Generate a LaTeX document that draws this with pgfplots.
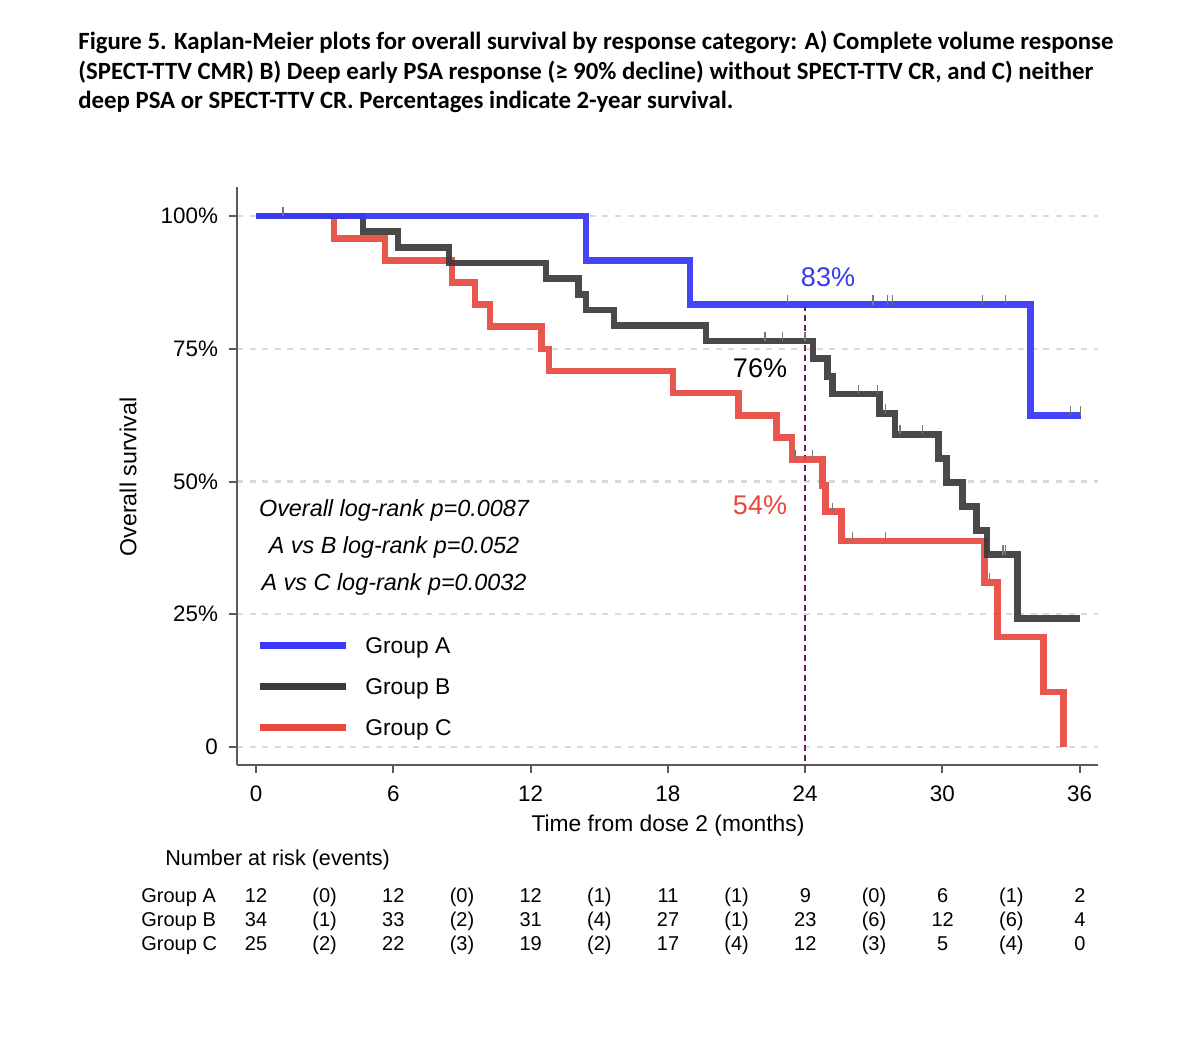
\documentclass[border=0pt]{standalone}
\usepackage{pgfplots}
\pgfplotsset{compat=1.18}
\usepackage{fontspec}
\setmainfont{Liberation Sans}
\newfontfamily\titlefont{Carlito}

\definecolor{grpA}{RGB}{58,58,245}
\definecolor{grpB}{RGB}{58,58,58}
\definecolor{grpC}{RGB}{232,72,62}
\definecolor{gridgray}{RGB}{218,218,218}
\definecolor{censor}{RGB}{120,120,120}
\definecolor{cutoff}{RGB}{100,30,100}
\definecolor{axisgray}{RGB}{90,90,90}

\begin{document}
\begin{tikzpicture}[x=0.5pt,y=0.5pt]
\path[fill=white] (0,0) rectangle (1200,1054);

% caption
\begin{scope}[every node/.style={anchor=west, inner sep=0pt, font=\titlefont\bfseries\fontsize{12.4}{14}\selectfont}]
\node at (78,1012) {Figure 5. Kaplan-Meier plots for overall survival by response category: A) Complete volume response};
\node at (78,982) {(SPECT-TTV CMR) B) Deep early PSA response (≥ 90\% decline) without SPECT-TTV CR, and C) neither};
\node at (78,952) {deep PSA or SPECT-TTV CR. Percentages indicate 2-year survival.};
\end{scope}

\begin{axis}[
  at={(118.5pt,144.5pt)}, anchor=south west,
  scale only axis, width=430.5pt, height=289pt,
  xmin=-0.83, xmax=36.8, ymin=-3.4, ymax=105.5,
  axis lines*=left,
  axis line style={line width=1pt, axisgray},
  every tick/.style={line width=1pt, axisgray},
  tick align=outside, major tick length=4pt,
  xtick={0,6,...,36}, ytick={0,25,50,75,100},
  yticklabels={0,25\%,50\%,75\%,100\%},
  ymajorgrids,
  major grid style={gridgray, line width=1.1pt, dash pattern=on 3pt off 3.3pt},
  tick label style={font=\fontsize{11.2}{13}\selectfont},
  xticklabel style={yshift=-3pt},
  yticklabel style={xshift=-2pt},
  /pgf/number format/assume math mode=true,
  clip=false,
]
% 2-year reference
\addplot[cutoff, line width=1pt, dash pattern=on 3.2pt off 1.8pt] coordinates {(24,83.33) (24,-3.4)};

% censoring ticks
\addplot[only marks, mark=|, mark size=2.3pt, censor, mark options={yshift=2.3pt, line width=0.7pt}] coordinates {
 (1.18,100)
 (23.24,83.33) (26.96,83.33) (27.61,83.33) (27.83,83.33) (31.76,83.33) (32.77,83.33) (35.61,62.5) (36.04,62.5)
 (22.24,76.47) (23.02,76.47) (24.0,76.47) (26.34,66.50) (27.15,66.50) (27.52,62.81) (28.14,58.89) (29.14,58.89) (32.64,36.24) (32.77,36.24)
 (23.55,54.17) (24.33,54.17) (25.2,44.32) (26.08,38.78) (27.52,38.78) (32.07,31.02)
};

% Group C
\addplot[const plot, grpC, line width=3.3pt, opacity=0.92] coordinates {
 (0,100) (3.41,95.83) (5.64,91.67) (8.56,87.5) (9.57,83.33) (10.22,79.17) (12.49,75.0) (12.80,70.83)
 (18.22,66.67) (21.1,62.5) (22.76,58.33) (23.42,54.17) (24.77,49.24) (24.90,44.32) (25.60,38.78)
 (31.85,31.02) (32.42,20.68) (34.43,10.34) (35.30,0)
};
% Group B
\addplot[const plot, grpB, line width=3.3pt, opacity=0.92] coordinates {
 (0,100) (4.67,97.06) (6.20,94.12) (8.43,91.18) (12.67,88.24) (14.09,85.29) (14.42,82.35) (15.64,79.41)
 (19.66,76.47) (24.34,73.15) (24.99,69.82) (25.20,66.50) (27.25,62.81) (27.92,58.89) (29.84,54.36)
 (30.19,49.83) (30.89,45.30) (31.50,40.77) (31.94,36.24) (33.29,24.16) (36.0,24.16)
};
% Group A
\addplot[const plot, grpA, line width=3.3pt, opacity=0.94] coordinates {
 (0,100) (14.42,91.67) (18.96,83.33) (33.86,62.5) (36.04,62.5)
};
\end{axis}

% axis titles
\node[font=\fontsize{11.4}{13}\selectfont] at (668,228) {Time from dose 2 (months)};
\node[rotate=90, font=\fontsize{11.6}{13}\selectfont] at (128,577) {Overall survival};

% 2-year survival
\begin{scope}[every node/.style={font=\fontsize{13.5}{16}\selectfont}]
\node[grpA] at (828,777) {83\%};
\node[black] at (760,686) {76\%};
\node[grpC] at (760,549) {54\%};
\end{scope}

% log-rank tests
\node[align=center, font=\itshape\fontsize{11.7}{18.5}\selectfont] at (394,507)
 {Overall log-rank p=0.0087\\A vs B log-rank p=0.052\\A vs C log-rank p=0.0032};

% legend
\draw[grpA, line width=3.5pt] (260,408) -- (346,408);
\draw[grpB, line width=3.5pt] (260,367) -- (346,367);
\draw[grpC, line width=3.5pt] (260,326) -- (346,326);
\begin{scope}[every node/.style={anchor=west, inner sep=0pt, font=\fontsize{11.4}{13}\selectfont}]
\node at (365,406) {Group A};
\node at (365,365) {Group B};
\node at (365,324) {Group C};
\end{scope}

% number at risk
\begin{scope}[every node/.style={font=\fontsize{10}{12}\selectfont, inner sep=0pt, text height=7.2pt, text depth=2.2pt}]
\node[anchor=west, font=\fontsize{10.8}{12}\selectfont] at (165,193) {Number at risk (events)};
\node[anchor=west] at (141,156) {Group A};
\node[anchor=west] at (141,132) {Group B};
\node[anchor=west] at (141,108) {Group C};
\foreach \v [count=\i from 0] in {12,(0),12,(0),12,(1),11,(1),9,(0),6,(1),2}
  \node at (256+68.667*\i,156) {\v};
\foreach \v [count=\i from 0] in {34,(1),33,(2),31,(4),27,(1),23,(6),12,(6),4}
  \node at (256+68.667*\i,132) {\v};
\foreach \v [count=\i from 0] in {25,(2),22,(3),19,(2),17,(4),12,(3),5,(4),0}
  \node at (256+68.667*\i,108) {\v};
\end{scope}
\end{tikzpicture}
\end{document}
